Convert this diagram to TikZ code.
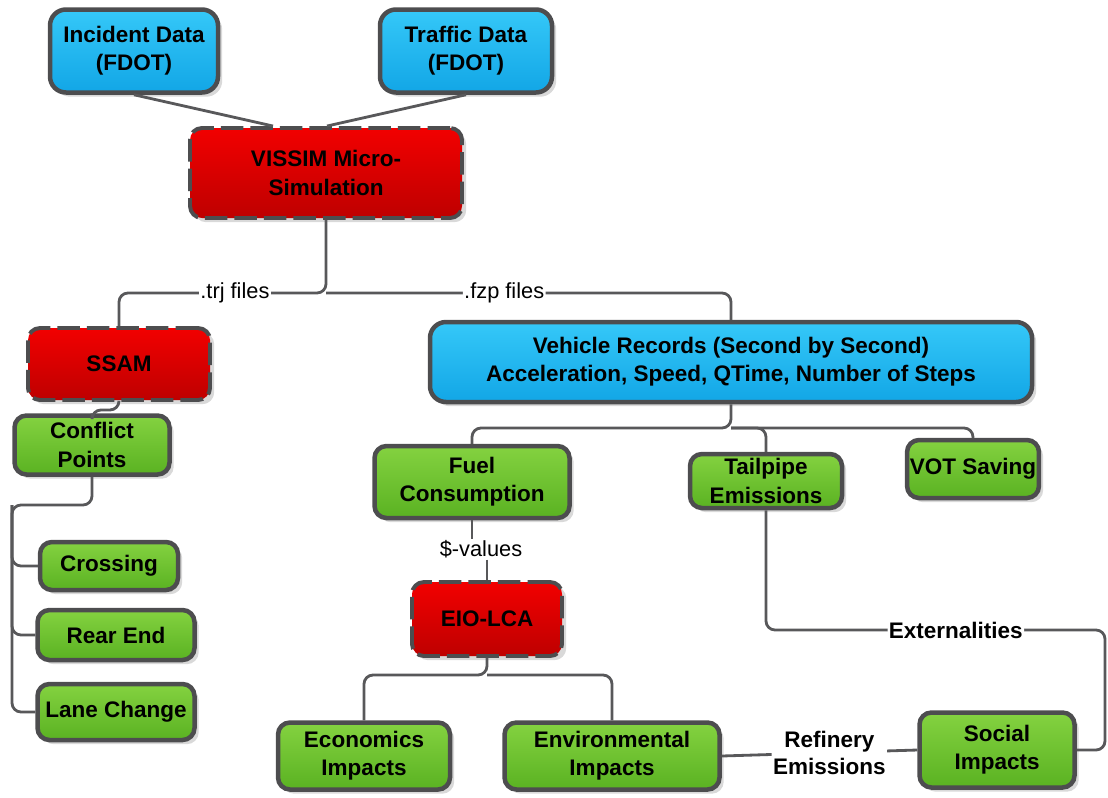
\documentclass[tikz,border=0pt]{standalone}
\usepackage{fontspec}
\setmainfont{Liberation Sans}
\usetikzlibrary{calc,positioning,shadows}
\definecolor{boxline}{HTML}{4D4D4F}
\definecolor{linegray}{HTML}{58585A}
\definecolor{bluetop}{HTML}{35C8F8}
\definecolor{bluebot}{HTML}{12A6E6}
\definecolor{redtop}{HTML}{F20000}
\definecolor{redbot}{HTML}{BE0000}
\definecolor{greentop}{HTML}{84D240}
\definecolor{greenbot}{HTML}{5AB222}
\newlength{\px}
\setlength{\px}{0.025cm}
\tikzset{
  box/.style = {draw=boxline,line width=3.2pt,rounded corners=12\px,align=center,
    font=\bfseries\fontsize{16}{20}\selectfont,inner sep=2pt,
    drop shadow={opacity=0.3,shadow xshift=3pt,shadow yshift=-3pt}},
  datasrc/.style = {box,top color=bluetop,bottom color=bluebot,rounded corners=16\px},
  tool/.style = {box,dash pattern=on 16pt off 5pt,line width=2.8pt,top color=redtop,bottom color=redbot},
  result/.style = {box,top color=greentop,bottom color=greenbot},
  link/.style = {draw=linegray,line width=2pt,rounded corners=9\px},
  lab/.style = {fill=white,inner sep=1pt,font=\fontsize{15.5}{18}\selectfont},
  blab/.style = {lab,font=\bfseries\fontsize{16}{19}\selectfont,align=center}
}

\begin{document}
\begin{tikzpicture}[x=0.025cm,y=-0.025cm]
\useasboundingbox (0,0) rectangle (1108,797);

% sources
\node[datasrc,minimum width=168\px,minimum height=83\px] (incident) at (134,51) {Incident Data\\(FDOT)};
\node[datasrc,minimum width=172\px,minimum height=83\px] (traffic) at (466,51) {Traffic Data\\(FDOT)};
\node[tool,minimum width=272\px,minimum height=90\px] (vissim) at (326,173) {VISSIM Micro-\\Simulation};

% safety branch
\node[tool,minimum width=182\px,minimum height=72\px] (ssam) at (119,364) {SSAM};
\node[result,minimum width=155\px,minimum height=59\px] (conflict) at (92,445) {Conflict\\Points};
\node[result,minimum width=138\px,minimum height=48\px] (crossing) at (109,566) {Crossing};
\node[result,minimum width=157\px,minimum height=50\px] (rearend) at (116,635) {Rear End};
\node[result,minimum width=157\px,minimum height=56\px] (lanechg) at (116,712) {Lane Change};

% vehicle records branch
\node[datasrc,minimum width=602\px,minimum height=80\px] (vrec) at (731,362)
  {Vehicle Records (Second by Second)\\Acceleration, Speed, QTime, Number of Steps};
\node[result,minimum width=195\px,minimum height=72\px] (fuel) at (472,482) {Fuel\\Consumption};
\node[result,minimum width=152\px,minimum height=54\px] (tailpipe) at (766,481) {Tailpipe\\Emissions};
\node[result,minimum width=123\px,minimum height=58\px] (vot) at (973,469) {VOT Saving};
\node[tool,minimum width=150\px,minimum height=74\px] (eio) at (487,619) {EIO-LCA};
\node[result,minimum width=172\px,minimum height=67\px] (econ) at (364,756) {Economics\\Impacts};
\node[result,minimum width=215\px,minimum height=67\px] (env) at (612,756) {Environmental\\Impacts};
\node[result,minimum width=155\px,minimum height=75\px] (social) at (997,750) {Social\\Impacts};

\coordinate (vsplit) at (326,293);
\coordinate (csplit) at (12,505);
\coordinate (rsplit) at (731,428);
\coordinate (esplit) at (487,675);
\coordinate (extc) at (1105,630);
\node[lab] (sval) at (481,549) {\$-values};

\draw[link] (incident.south) -- (vissim.north -| 273,0);
\draw[link] (traffic.south) -- (vissim.north -| 327,0);

\draw[link] (vissim.south) -- (vsplit) -| node[lab,pos=0.22] {.trj files} (ssam.north);
\draw[link] (vsplit) -| node[lab,pos=0.22] {.fzp files} (vrec.north);

\draw[link] (ssam.south) -- ++(0,8) -| (conflict.north);
\draw[link] (conflict.south) |- (csplit) |- (lanechg.west);
\draw[link] (csplit) |- (crossing.west);
\draw[link] (csplit) |- (rearend.west);

\draw[link] (vrec.south) -- (rsplit) -| (fuel.north);
\draw[link] (rsplit) -| (tailpipe.north);
\draw[link] (rsplit) -| (vot.north);

\draw[link] (fuel.south) -- (fuel.south |- sval.north);
\draw[link] (eio.north |- sval.south) -- (eio.north);
\draw[link] (eio.south) -- (esplit) -| (econ.north);
\draw[link] (esplit) -| (env.north);

\draw[link] (env.east) -- node[blab,pos=0.55] {Refinery\\Emissions} (social.west);
\draw[link] (tailpipe.south) |- node[blab,pos=0.78] {Externalities} (extc) |- (social.east);
\end{tikzpicture}
\end{document}
